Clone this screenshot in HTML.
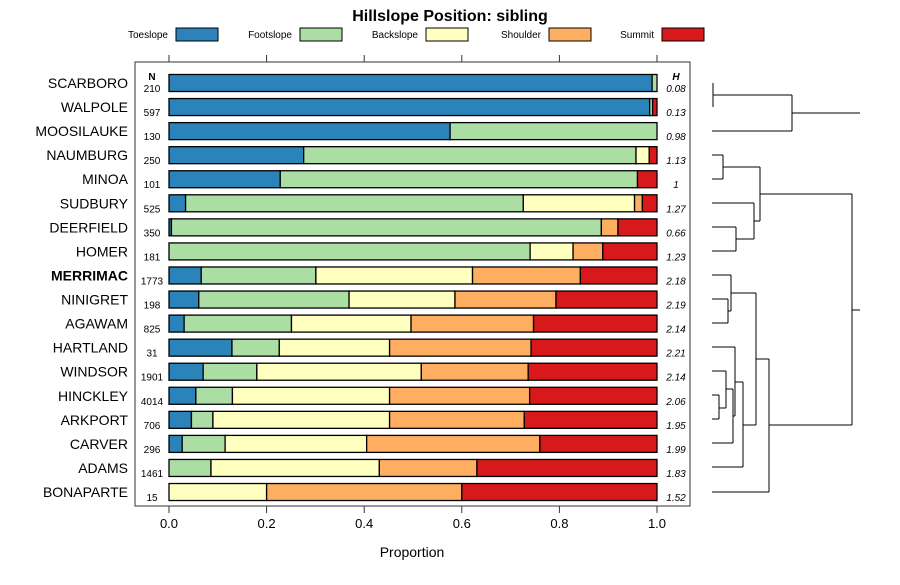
<!DOCTYPE html>
<html><head><meta charset="utf-8"><style>
body{margin:0;background:#fff;font-family:"Liberation Sans",sans-serif}
svg text{font-family:"Liberation Sans",sans-serif}
</style></head><body>
<svg id="c" width="900" height="580"></svg>
<script>
const series=["Toeslope","Footslope","Backslope","Shoulder","Summit"];
const colors=["#2B83BA","#ABDDA4","#FFFFBF","#FDAE61","#D7191C"];
const categories=["SCARBORO","WALPOLE","MOOSILAUKE","NAUMBURG","MINOA","SUDBURY","DEERFIELD","HOMER","MERRIMAC","NINIGRET","AGAWAM","HARTLAND","WINDSOR","HINCKLEY","ARKPORT","CARVER","ADAMS","BONAPARTE"];
const nVals=[210,597,130,250,101,525,350,181,1773,198,825,31,1901,4014,706,296,1461,15];
const hVals=["0.08","0.13","0.98","1.13","1","1.27","0.66","1.23","2.18","2.19","2.14","2.21","2.14","2.06","1.95","1.99","1.83","1.52"];
const toeslope=[0.990,0.985,0.576,0.276,0.228,0.034,0.005,0,0.066,0.061,0.031,0.129,0.070,0.055,0.046,0.027,0,0];
const footslope=[0.010,0.006,0.424,0.681,0.732,0.692,0.881,0.740,0.235,0.308,0.220,0.097,0.110,0.075,0.044,0.088,0.086,0];
const backslope=[0,0,0,0.027,0,0.228,0,0.088,0.321,0.217,0.245,0.226,0.337,0.322,0.362,0.290,0.345,0.200];
const shoulder=[0,0,0,0,0,0.016,0.034,0.061,0.221,0.207,0.251,0.290,0.219,0.287,0.276,0.355,0.200,0.400];
const summit=[0,0.009,0,0.016,0.040,0.030,0.080,0.111,0.157,0.207,0.253,0.258,0.264,0.261,0.272,0.240,0.369,0.400];
const ticks=[0,0.2,0.4,0.6,0.8,1.0];
const tickLabels=["0.0","0.2","0.4","0.6","0.8","1.0"];
const vals=[toeslope,footslope,backslope,shoulder,summit];
const NS="http://www.w3.org/2000/svg",svg=document.getElementById('c');
function mk(t,a,p){const e=document.createElementNS(NS,t);for(const k in a)e.setAttribute(k,a[k]);(p||svg).appendChild(e);return e;}
const X=v=>169+v*488, Y=i=>83+i*24.06;
let t=mk('text',{x:450,y:21,'text-anchor':'middle','font-size':16,'font-weight':'bold'});t.textContent="Hillslope Position: sibling";

const legX=[168,292,418,541,654];
series.forEach((s,k)=>{const g=mk('g',{});


const tt=mk('text',{x:legX[k],y:38,'text-anchor':'end','font-size':10},g);tt.textContent=s;
mk('rect',{x:legX[k]+8,y:28,width:42,height:13,fill:colors[k],stroke:'#000','stroke-width':1},g);});
const fr=mk('rect',{x:135,y:62,width:555,height:444,fill:'none',stroke:'#333','stroke-width':1});

ticks.forEach((v,j)=>{mk('line',{x1:X(v),x2:X(v),y1:55,y2:62,stroke:'#333'});mk('line',{x1:X(v),x2:X(v),y1:506,y2:513,stroke:'#333'});
const l=mk('text',{x:X(v),y:528,'text-anchor':'middle','font-size':13});l.textContent=tickLabels[j];
});
t=mk('text',{x:412,y:557,'text-anchor':'middle','font-size':14});t.textContent="Proportion";

t=mk('text',{x:152,y:80,'text-anchor':'middle','font-size':10,'font-weight':'bold'});t.textContent="N";
t=mk('text',{x:676,y:80,'text-anchor':'middle','font-size':10,'font-weight':'bold','font-style':'italic'});t.textContent="H";
categories.forEach((c,i)=>{const y=Y(i);
const lab=mk('text',{x:128,y:y+5,'text-anchor':'end','font-size':14,'font-weight':c==="MERRIMAC"?'bold':'normal'});lab.textContent=c;

const n=mk('text',{x:152,y:y+9,'text-anchor':'middle','font-size':10});n.textContent=nVals[i];

const h=mk('text',{x:676,y:y+9,'text-anchor':'middle','font-size':10,'font-style':'italic'});h.textContent=hVals[i];

let cum=0;vals.forEach((arr,k)=>{const v=arr[i];if(v>0){const r=mk('rect',{x:X(cum),y:y-8.5,width:X(cum+v)-X(cum),height:17,fill:colors[k],stroke:'#000','stroke-width':1.3});
}cum+=v;});});
const d=mk('path',{fill:'none',stroke:'#000','stroke-width':1,d:
"M713,83V107M713,95H792M712,131H792M792,95V131M792,113H860"+
"M712,155H723M712,179H723M723,155V179M723,167H760"+
"M712,227H736M712,251H736M736,227V251M736,239H754M712,203H754M754,203V239M754,221H760M760,167V221M760,194H852"+
"M712,299H728M712,323H728M728,299V323M728,311H731M712,275H731M731,275V311M731,293H756"+
"M712,395H719M712,419H719M719,395V419M719,408H726M712,371H726M726,371V408M726,389H733M712,443H733M733,389V443M733,416H735M712,347H735M735,347V416M735,382H743M712,467H743M743,382V467M743,425H756M756,293V425M756,359H769M712,492H769M769,359V492M769,425H852M852,194V425M852,310H860"});

</script></body></html>
